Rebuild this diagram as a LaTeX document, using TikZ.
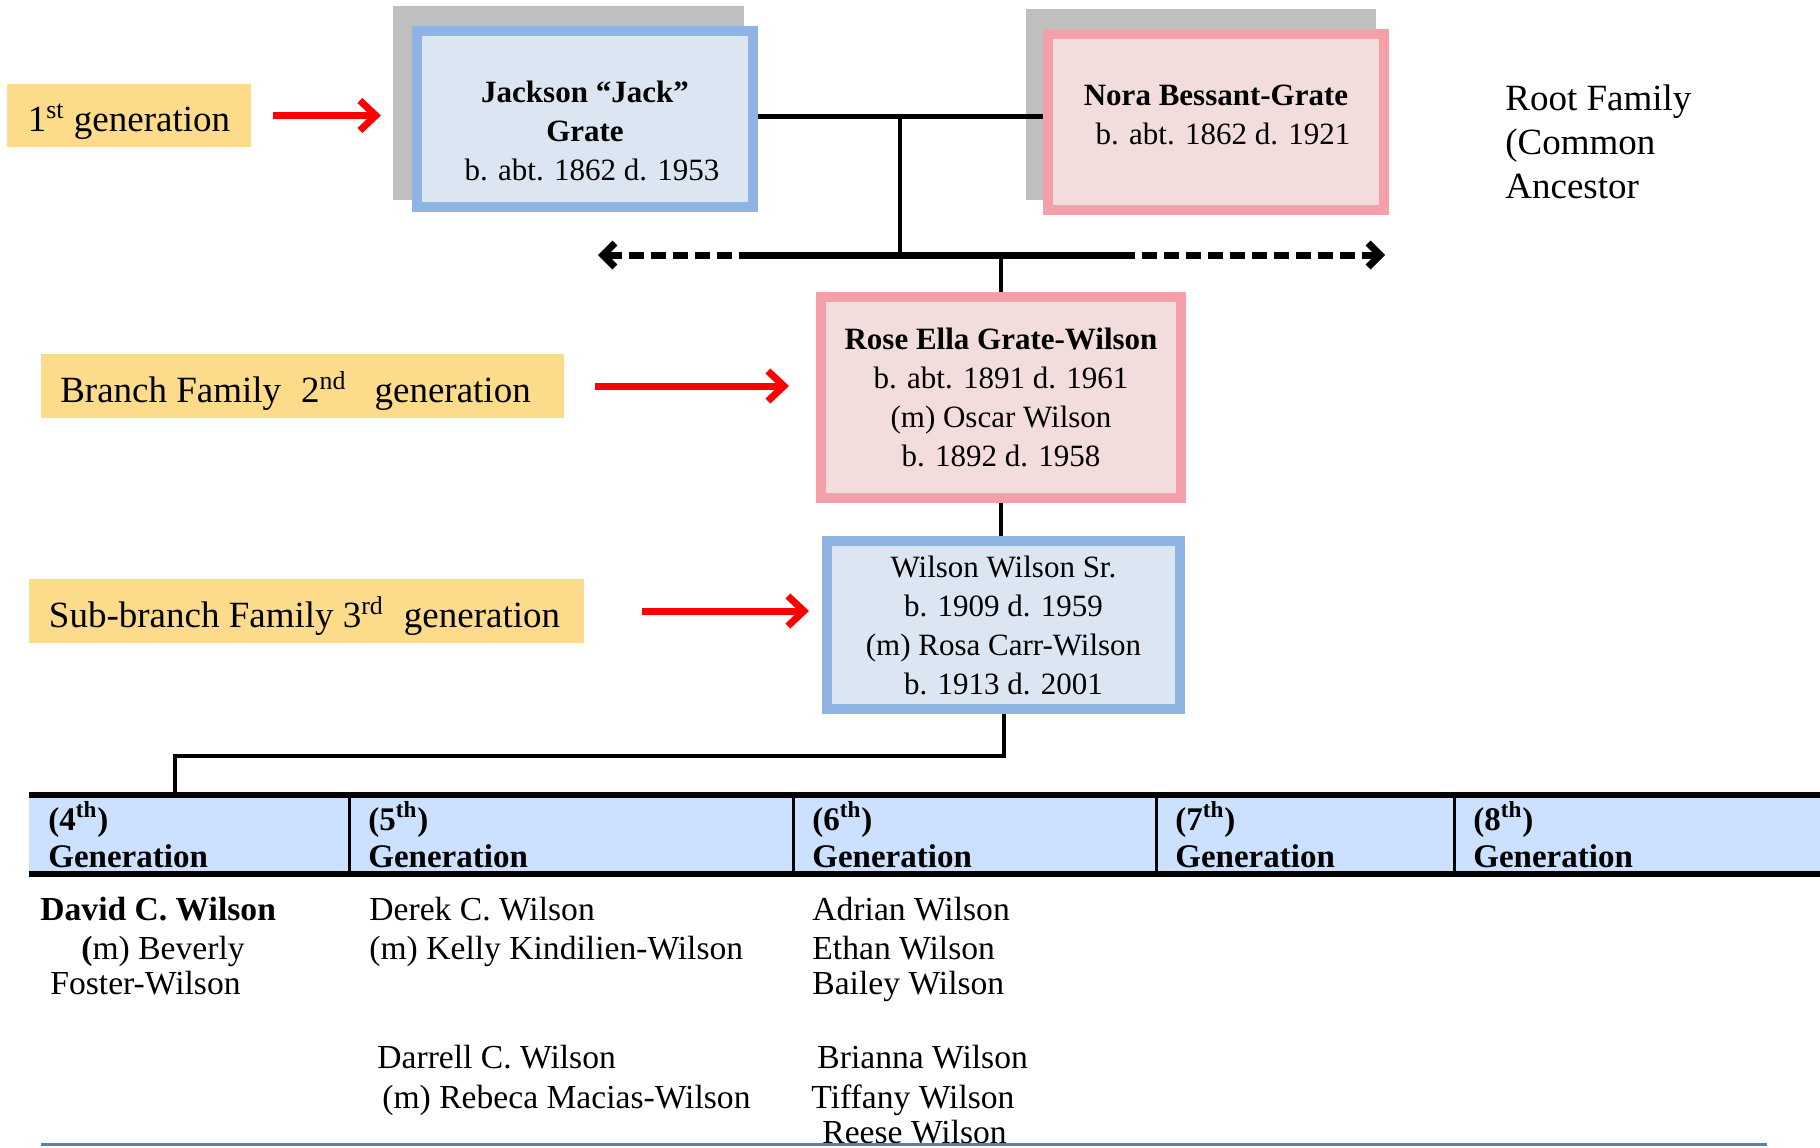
\documentclass[tikz,border=0pt]{standalone}
\usepackage{fontspec}
\setmainfont{Liberation Serif}
\usetikzlibrary{arrows.meta,backgrounds,calc}

\definecolor{boxblue}{RGB}{141,180,226}
\definecolor{boxbluefill}{RGB}{220,230,242}
\definecolor{boxpink}{RGB}{245,160,168}
\definecolor{boxpinkfill}{RGB}{242,220,220}
\definecolor{shadowgrey}{RGB}{191,191,191}
\definecolor{labyellow}{RGB}{252,219,138}
\definecolor{arrowred}{RGB}{255,0,0}
\definecolor{headblue}{RGB}{204,225,255}
\definecolor{lineblue}{RGB}{79,129,189}

\newcommand{\boxfont}{\fontsize{15.5}{19.5}\selectfont}
\newcommand{\labfont}{\fontsize{18.5}{22}\selectfont}
\newcommand{\rowfont}{\fontsize{16.8}{20}\selectfont}
\newcommand{\headfont}{\fontsize{16.5}{18.5}\selectfont\bfseries}

\tikzset{
	person/.style={line width=5pt, align=center, font=\boxfont, inner sep=0pt},
	blueperson/.style={person, draw=boxblue, fill=boxbluefill},
	pinkperson/.style={person, draw=boxpink, fill=boxpinkfill},
	genlabel/.style={fill=labyellow, font=\labfont, inner sep=0pt, text height=19pt, text depth=3pt},
	redarrow/.style={draw=arrowred, line width=3.5pt, -{Straight Barb[length=8pt,width=15pt]}},
	stem/.style={line width=2pt},
	spread/.style={line width=3.5pt},
	spreaddash/.style={spread, dash pattern=on 7.5pt off 3.5pt, -{Straight Barb[length=6pt,width=12pt]}},
	gencell/.style={anchor=north west, fill=headblue, minimum height=39pt, inner xsep=9.5pt, inner ysep=0pt, align=left, font=\headfont},
	namerow/.style={anchor=west, inner sep=0pt, font=\rowfont, text height=11pt, text depth=3.5pt}
}

\begin{document}
\begin{tikzpicture}[x=0.5pt,y=-0.5pt]
			%%%%% START %%%%%
			\useasboundingbox (0,0) rectangle (1820,1147);
			
			% root couple
			\node[blueperson, minimum width=168pt, minimum height=88pt] (jack) at (585,119)
				{\rule{0pt}{23pt}\textbf{Jackson “Jack”}\\\textbf{Grate}\\\hspace*{7pt}b. abt. 1862 d. 1953};
			\node[pinkperson, minimum width=168pt, minimum height=88pt] (nora) at (1216,122)
				{\textbf{Nora Bessant-Grate}\\\hspace*{7pt}b. abt. 1862 d. 1921\rule[-7pt]{0pt}{7pt}};
			\begin{scope}[on background layer]
				\fill[shadowgrey] ($(jack.north west)+(-19,-20)$) rectangle ($(jack.south east)+(-14,-12)$);
				\fill[shadowgrey] ($(nora.north west)+(-17,-20)$) rectangle ($(nora.south east)+(-13,-15)$);
			\end{scope}
			\node[anchor=west, align=left, font=\fontsize{18.5}{22}\selectfont, inner sep=0pt] (root) at (1505,142)
				{Root Family\\(Common\\Ancestor};
			
			% branch and sub-branch
			\node[pinkperson, minimum width=180pt, minimum height=100.5pt] (rose) at (1001,397.5)
				{\textbf{Rose Ella Grate-Wilson}\\b. abt. 1891 d. 1961\\(m) Oscar Wilson\\b. 1892 d. 1958};
			\node[blueperson, minimum width=176.5pt, minimum height=84pt] (wilson) at (1003.5,625)
				{Wilson Wilson Sr.\\b. 1909 d. 1959\\(m) Rosa Carr-Wilson\\b. 1913 d. 2001};
			
			% generation labels
			\node[genlabel, minimum width=122pt, minimum height=31.5pt] (gen1) at (129,115.5)
				{1\textsuperscript{st} generation};
			\node[genlabel, minimum width=261.5pt, minimum height=32pt] (gen2) at (302.5,386)
				{Branch Family\hspace{10pt}2\textsuperscript{nd}\hspace{14pt}generation\hspace*{7pt}};
			\node[genlabel, minimum width=277.5pt, minimum height=32pt] (gen3) at (306.5,611)
				{Sub-branch Family 3\textsuperscript{rd}\hspace{10pt}generation\hspace*{2pt}};
			
			\draw[redarrow, shorten <=11pt, shorten >=15.5pt] (gen1.east) -- (gen1.east -| jack.west);
			\draw[redarrow, shorten <=15.5pt, shorten >=13.5pt] (gen2.east) -- (gen2.east -| rose.west);
			\draw[redarrow, shorten <=29pt, shorten >=6.5pt] (gen3.east) -- (gen3.east -| wilson.west);
			
			% family lines
			\coordinate (wed) at (900,116);
			\coordinate (spreadL) at (754,255);
			\coordinate (spreadR) at (1120,255);
			\coordinate (tipL) at (598,255);
			\coordinate (tipR) at (1385,255);
			\draw[line width=2.5pt] (jack.east |- wed) -- (nora.west |- wed);
			\draw[line width=1.75pt] (wed) -- (wed |- spreadL);
			\draw[spread] (spreadL) -- (spreadR);
			\draw[spreaddash] (spreadL) -- (tipL);
			\draw[spreaddash] (spreadR) -- (tipR);
			\draw[stem] (rose.north |- spreadL) -- (rose.north);
			\draw[stem] (rose.south) -- (rose.south |- wilson.north);
			
			% generation table
			\node[gencell, minimum width=160pt, text width=141pt] (h4) at (29,795) {(4\textsuperscript{th})\\Generation};
			\node[gencell, minimum width=222pt, text width=203pt] (h5) at (349,795) {(5\textsuperscript{th})\\Generation};
			\node[gencell, minimum width=181.5pt, text width=162.5pt] (h6) at (793,795) {(6\textsuperscript{th})\\Generation};
			\node[gencell, minimum width=149pt, text width=130pt] (h7) at (1156,795) {(7\textsuperscript{th})\\Generation};
			\node[gencell, minimum width=183pt, text width=164pt] (h8) at (1454,795) {(8\textsuperscript{th})\\Generation};
			
			\draw[line width=3pt] (h4.north west) -- (h8.north east);
			\draw[line width=3pt] (h4.south west) -- (h8.south east);
			\draw[line width=1.5pt] (h5.north west) -- (h5.south west);
			\draw[line width=1.5pt] (h6.north west) -- (h6.south west);
			\draw[line width=1.5pt] (h7.north west) -- (h7.south west);
			\draw[line width=1.5pt] (h8.north west) -- (h8.south west);
			
			\coordinate (drop) at (175,756);
			\draw[stem] (wilson.south) |- (drop) -- (drop |- h4.north);
			
			% names
			\node[namerow] (david) at (40,912.5) {\textbf{David C. Wilson}};
			\node[namerow] (davidm) at (81,951.5) {\textbf{(}m) Beverly};
			\node[namerow] (davidm2) at (50,986.5) {Foster-Wilson};
			
			\node[namerow] (derek) at (369,912.5) {Derek C. Wilson};
			\node[namerow] (derekm) at (369,951.5) {(m) Kelly Kindilien-Wilson};
			\node[namerow] (darrell) at (377,1060.5) {Darrell C. Wilson};
			\node[namerow] (darrellm) at (382,1100.5) {(m) Rebeca Macias-Wilson};
			
			\node[namerow] (adrian) at (812,912.5) {Adrian Wilson};
			\node[namerow] (ethan) at (812,951.5) {Ethan Wilson};
			\node[namerow] (bailey) at (812,986.5) {Bailey Wilson};
			\node[namerow] (brianna) at (817,1060.5) {Brianna Wilson};
			\node[namerow] (tiffany) at (811,1100.5) {Tiffany Wilson};
			\node[namerow] (reese) at (822,1135.5) {Reese Wilson};
			
			\draw[line width=1.5pt, color=lineblue] (41,1144) -- (1767,1144);
			%%%%% END %%%%%
\end{tikzpicture}
\end{document}
